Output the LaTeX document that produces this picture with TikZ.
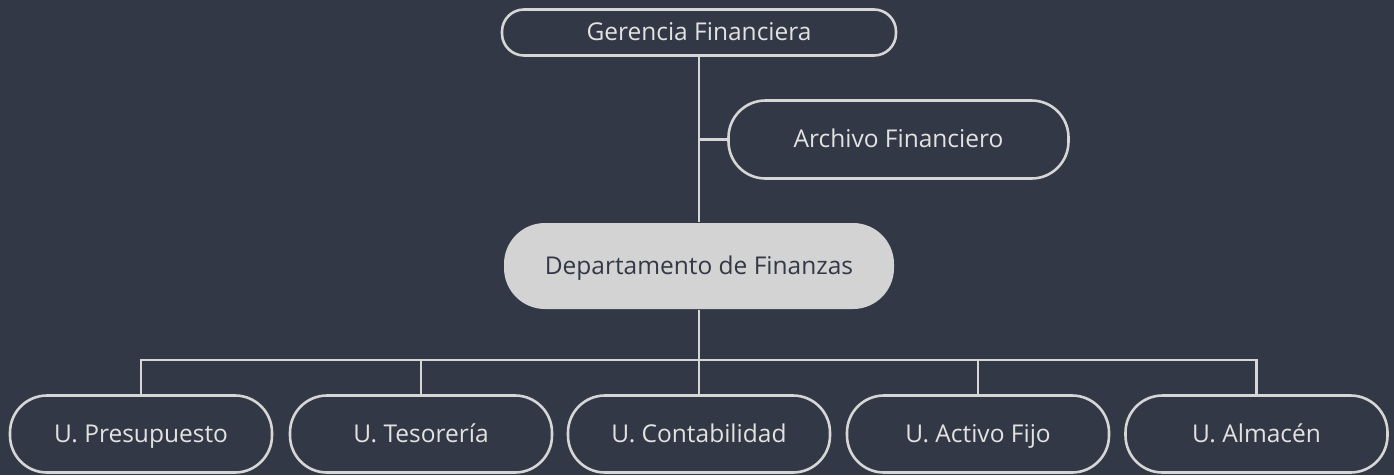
\documentclass[tikz,border=0pt]{standalone}
\usepackage{fontspec}
\setmainfont{Open Sans}
\definecolor{bg}{HTML}{323845}
\definecolor{linec}{HTML}{D6D6D6}
\definecolor{txtc}{HTML}{E2E2E2}
\definecolor{depfill}{HTML}{D3D3D3}
\begin{document}
\begin{tikzpicture}[x=1pt,y=-1pt,
  box/.style={draw=linec, line width=2.6pt, text=txtc, font=\fontsize{24.5}{28}\selectfont, inner sep=0pt, text height=19pt, text depth=3pt},
  unit/.style={box, minimum width=262pt, minimum height=77pt, rounded corners=37pt},
  conn/.style={draw=linec, line width=2.6pt}]
\fill[bg] (0,0) rectangle (1394,475);
\useasboundingbox (0,0) rectangle (1394,475);
\node[box, minimum width=394pt, minimum height=46pt, rounded corners=22pt] (ger) at (699,32.5) {Gerencia Financiera};
\node[box, minimum width=340pt, minimum height=78pt, rounded corners=37pt] (arch) at (898.5,139.5) {Archivo Financiero};
\node[box, draw=none, fill=depfill, text=bg, minimum width=390pt, minimum height=86pt, rounded corners=41pt] (dep) at (699,266) {Departamento de Finanzas};
\coordinate (bar) at (699,360);
\node[unit] (u1) at (141,434) {U. Presupuesto};
\node[unit] (u2) at (421,434) {U. Tesorería};
\node[unit] (u3) at (699,434) {U. Contabilidad};
\node[unit] (u4) at (978,434) {U. Activo Fijo};
\node[unit] (u5) at (1256.5,434) {U. Almacén};
\draw[conn] (ger.south) -- (dep.north);
\draw[conn] (arch.west) -- (ger.south |- arch.west);
\draw[conn] (dep.south) -- (u3.north);
\draw[conn] (u1.north) |- (bar) -| (u5.north);
\draw[conn] (u2.north) -- (u2.north |- bar);
\draw[conn] (u4.north) -- (u4.north |- bar);
\end{tikzpicture}
\end{document}
